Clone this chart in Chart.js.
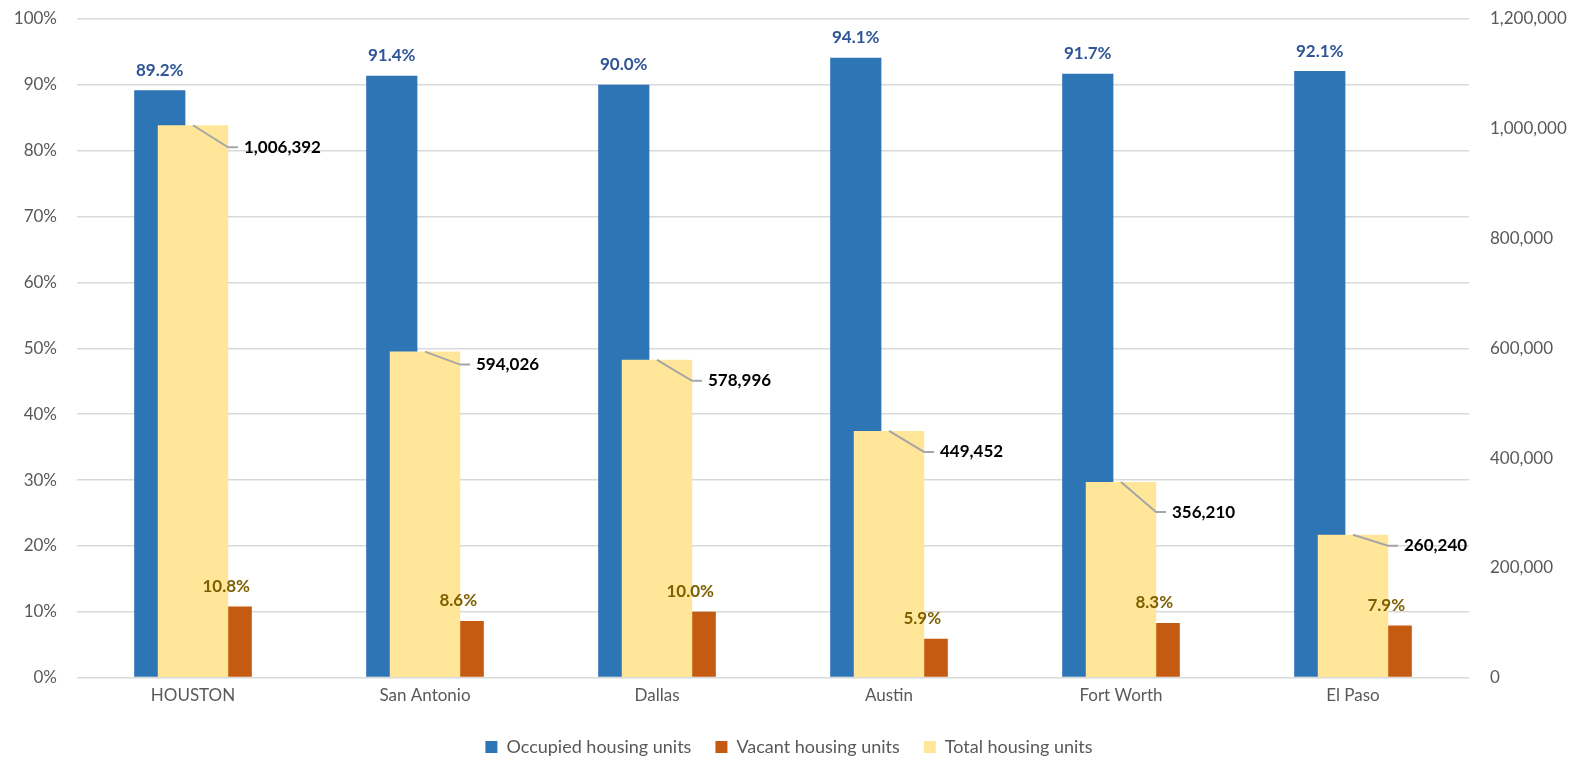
<!DOCTYPE html>
<html>
<head>
<meta charset="utf-8">
<title>Housing units by city</title>
<script src="https://cdn.jsdelivr.net/npm/chart.js@4.4.1/dist/chart.umd.min.js"></script>
<style>
    html, body { margin: 0; padding: 0; background: #fff; overflow: hidden; }
    #wrap { width: 1578px; height: 760px; position: relative; }
    canvas { display: block; }
</style>
</head>
<body>
<div id="wrap"><canvas id="housingChart"></canvas></div>
<script>
// Data
const cities = ['HOUSTON', 'San Antonio', 'Dallas', 'Austin', 'Fort Worth', 'El Paso'];
const occupiedPct = [89.2, 91.4, 90.0, 94.1, 91.7, 92.1];
const vacantPct = [10.8, 8.6, 10.0, 5.9, 8.3, 7.9];
const totalUnits = [1006392, 594026, 578996, 449452, 356210, 260240];

const seriesNames = ['Occupied housing units', 'Vacant housing units', 'Total housing units'];

const FONT = 'Lato, "Open Sans", sans-serif';

// Draws the value labels (percent on top of bars, totals with a leader line)
const valueLabels = {
    id: 'valueLabels',
    afterDatasetsDraw(chart, args, opts) {
        const ctx = chart.ctx;
        ctx.save();
        ctx.font = 'bold 17px ' + FONT;
        ctx.textBaseline = 'middle';

        // percent labels for occupied + vacant
        [0, 1].forEach(i => {
            const meta = chart.getDatasetMeta(i);
            ctx.fillStyle = opts.colors[i];
            ctx.textAlign = 'center';
            meta.data.forEach((bar, j) => {
                const v = chart.data.datasets[i].data[j];
                ctx.fillText(v.toFixed(1) + '%', bar.x, bar.y - 20);
            });
        });

        // total labels with a grey leader line
        const meta = chart.getDatasetMeta(2);
        meta.data.forEach((bar, j) => {
            const v = chart.data.datasets[2].data[j];
            const dy = opts.totalDy[j];
            ctx.strokeStyle = '#A6A6A6';
            ctx.lineWidth = 2;
            ctx.beginPath();
            ctx.moveTo(bar.x, bar.y);
            ctx.lineTo(bar.x + 35, bar.y + dy);
            ctx.lineTo(bar.x + 45, bar.y + dy);
            ctx.stroke();
            ctx.fillStyle = opts.colors[2];
            ctx.textAlign = 'left';
            ctx.fillText(v.toLocaleString('en-US'), bar.x + 51, bar.y + dy);
        });
        ctx.restore();
    }
};

// y axes: fixed width and no extra top/bottom padding from the tick labels
function fitY(width) {
    return function(scale) {
        scale.width = width;
        scale.paddingTop = 0;
        scale.paddingBottom = 0;
    };
}

const ctx = document.getElementById('housingChart').getContext('2d');
const housingChart = new Chart(ctx, {
    type: 'bar',
    data: {
        labels: cities,
        datasets: [
            {
                label: seriesNames[0],
                data: occupiedPct,
                yAxisID: 'y',
                backgroundColor: '#2E75B6',
                categoryPercentage: 0.573,
                barPercentage: 0.77,
                order: 1
            },
            {
                label: seriesNames[1],
                data: vacantPct,
                yAxisID: 'y',
                backgroundColor: '#C55A11',
                categoryPercentage: 0.573,
                barPercentage: 0.77,
                order: 1
            },
            {
                label: seriesNames[2],
                data: totalUnits,
                yAxisID: 'y2',
                backgroundColor: '#FFE699',
                grouped: false,
                categoryPercentage: 0.573,
                barPercentage: 0.53,
                order: 0   // drawn on top of the other bars
            }
        ]
    },
    options: {
        responsive: true,
        maintainAspectRatio: false,
        animation: false,
        layout: { padding: { top: 19, left: 0, right: 0, bottom: -6 } },
        plugins: {
            legend: {
                position: 'bottom',
                labels: {
                    font: { family: FONT, size: 18 },
                    color: '#595959',
                    boxWidth: 12,
                    boxHeight: 12,
                    padding: 24,
                    sort: (a, b) => a.datasetIndex - b.datasetIndex
                }
            },
            tooltip: { enabled: false },
            valueLabels: {
                colors: ['#2F5597', '#7F6000', '#000000'],
                totalDy: [22, 13, 21, 21, 30, 11]
            }
        },
        scales: {
            x: {
                grid: { display: false, drawTicks: false },
                border: { display: false },
                ticks: {
                    font: { family: FONT, size: 17 },
                    color: '#595959',
                    padding: 8
                }
            },
            y: {
                position: 'left',
                min: 0,
                max: 100,
                grid: { color: '#D9D9D9', lineWidth: 1.5, drawTicks: false },
                border: { display: false },
                ticks: {
                    stepSize: 10,
                    font: { family: FONT, size: 17 },
                    color: '#595959',
                    padding: 20,
                    callback: v => v + '%'
                },
                afterFit: fitY(77)
            },
            y2: {
                position: 'right',
                min: 0,
                max: 1200000,
                grid: { drawOnChartArea: false, drawTicks: false },
                border: { display: false },
                ticks: {
                    stepSize: 200000,
                    font: { family: FONT, size: 17 },
                    color: '#595959',
                    padding: 21,
                    callback: v => v.toLocaleString('en-US')
                },
                afterFit: fitY(109)
            }
        }
    },
    plugins: [valueLabels]
});
</script>
</body>
</html>
